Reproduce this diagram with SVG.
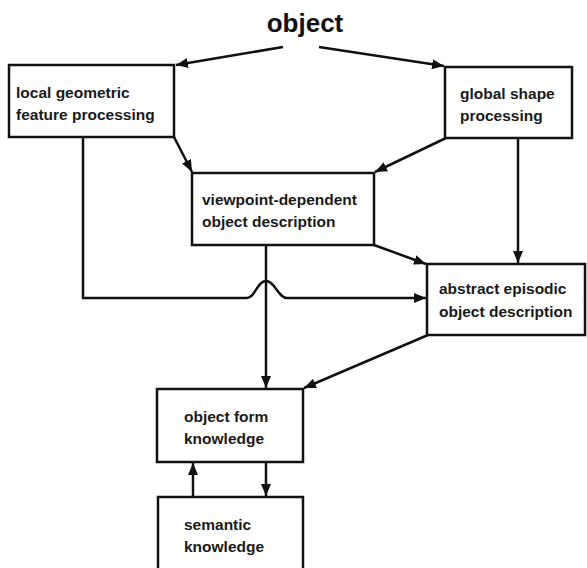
<svg xmlns="http://www.w3.org/2000/svg" width="587" height="568" viewBox="0 0 587 568">
<style>
.box{fill:#fff;stroke:#111;stroke-width:2.5}
.lbl{font-family:"Liberation Sans",Arial,sans-serif;font-weight:bold;font-size:15.5px;fill:#1a1a1a}
.title{font-family:"Liberation Sans",Arial,sans-serif;font-weight:bold;font-size:26px;fill:#111}
.conn{fill:none;stroke:#111;stroke-width:2.5}
</style>
<defs>
<marker id="ah" viewBox="0 0 12 10" refX="12" refY="5" markerWidth="12" markerHeight="10" markerUnits="userSpaceOnUse" orient="auto">
<path d="M0,0 L12,5 L0,10 Z" fill="#111"/>
</marker>
</defs>
<rect width="587" height="568" fill="#fff"/>
<g id="title"><text class="title" x="305" y="32" text-anchor="middle">object</text></g>
<g id="connectors">
<line class="conn" x1="283" y1="47" x2="176" y2="65" marker-end="url(#ah)"/>
<line class="conn" x1="319" y1="47" x2="444" y2="66" marker-end="url(#ah)"/>
<line class="conn" x1="174" y1="137" x2="192" y2="172" marker-end="url(#ah)"/>
<line class="conn" x1="446" y1="138" x2="375" y2="172" marker-end="url(#ah)"/>
<path class="conn" d="M83,137 V298 H247 C255,298 257,281 266,281 C275,281 278,298 287,298 H426" marker-end="url(#ah)"/>
<line class="conn" x1="518" y1="138" x2="518" y2="263" marker-end="url(#ah)"/>
<line class="conn" x1="374" y1="245" x2="426" y2="264" marker-end="url(#ah)"/>
<line class="conn" x1="266" y1="245" x2="266" y2="388" marker-end="url(#ah)"/>
<line class="conn" x1="428" y1="335" x2="304" y2="388" marker-end="url(#ah)"/>
<line class="conn" x1="266" y1="462" x2="266" y2="496" marker-end="url(#ah)"/>
<line class="conn" x1="193" y1="497" x2="193" y2="463" marker-end="url(#ah)"/>
</g>
<g id="local"><rect class="box" x="9" y="65" width="165" height="72"/><text class="lbl" x="16" y="98">local geometric</text><text class="lbl" x="16" y="120">feature processing</text></g>
<g id="global"><rect class="box" x="445" y="67" width="127" height="71"/><text class="lbl" x="460" y="99">global shape</text><text class="lbl" x="460" y="121">processing</text></g>
<g id="viewpoint"><rect class="box" x="192" y="173" width="182" height="72"/><text class="lbl" x="202" y="205">viewpoint-dependent</text><text class="lbl" x="202" y="227">object description</text></g>
<g id="abstract"><rect class="box" x="427" y="264" width="158" height="71"/><text class="lbl" x="439" y="294">abstract episodic</text><text class="lbl" x="439" y="317">object description</text></g>
<g id="form"><rect class="box" x="157" y="389" width="146" height="73"/><text class="lbl" x="184" y="422">object form</text><text class="lbl" x="184" y="444">knowledge</text></g>
<g id="semantic"><rect class="box" x="158" y="497" width="145" height="75"/><text class="lbl" x="184" y="530">semantic</text><text class="lbl" x="184" y="552">knowledge</text></g>
</svg>
